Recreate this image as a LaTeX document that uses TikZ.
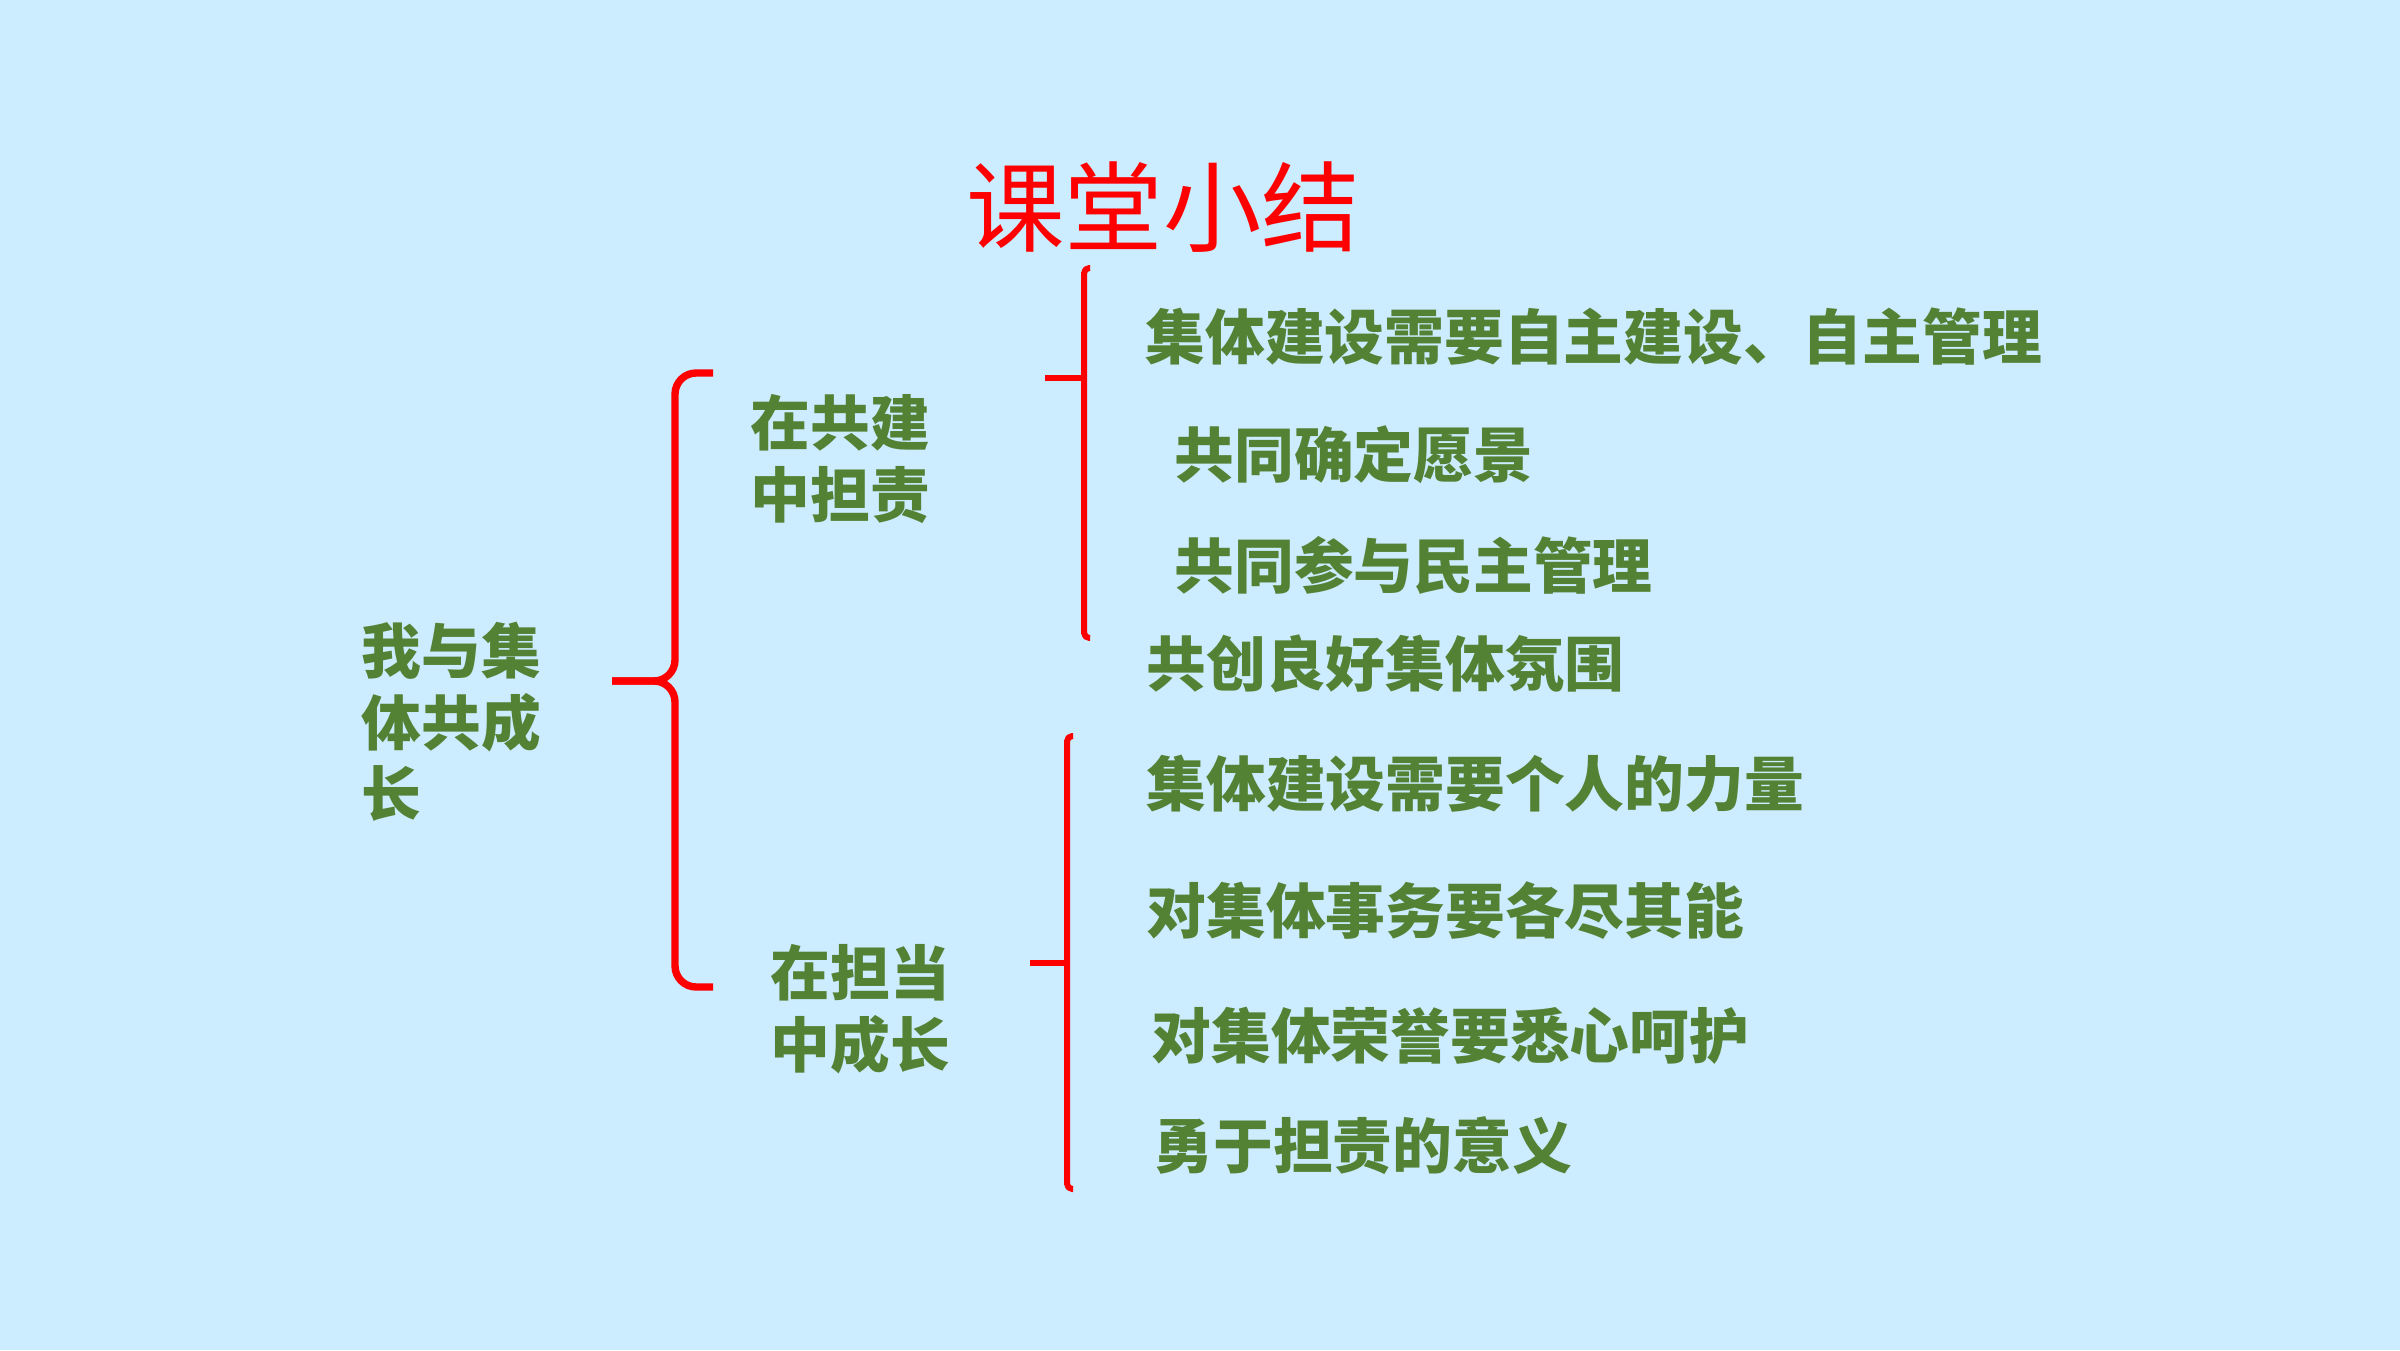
\documentclass[tikz,border=0pt]{standalone}
\usepackage{fontspec}
\setmainfont{Noto Sans CJK SC}
\newfontfamily\cjk{Noto Sans CJK SC}
\usetikzlibrary{positioning}
\definecolor{bgblue}{HTML}{CCECFF}
\definecolor{leafgreen}{HTML}{548235}

\begin{document}
\begin{tikzpicture}[x=1cm, y=1cm,
		point/.style={anchor=west, inner sep=0pt, text=leafgreen, align=left,
			font=\cjk\bfseries\fontsize{17}{20.4}\selectfont},
		bracket/.style={draw=red, line width=1.7pt, line join=round}]
	\fill[bgblue] (0,0) rectangle (24,13.5);
	\useasboundingbox (0,0) rectangle (24,13.5);
	
	\node[text=red, font=\cjk\fontsize{28}{30}\selectfont] (title) at (11.63, 11.43) {课堂小结};
	
	\node[point] (root) at (3.61, 6.28) {我与集\\体共成\\长};
	\node[point] (build) at (7.50, 8.91) {在共建\\中担责};
	\node[point] (grow) at (7.70, 3.41) {在担当\\中成长};
	
	\node[point] (b1) at (11.45, 10.13) {集体建设需要自主建设、自主管理};
	\node[point] (b2) at (11.74, 8.95) {共同确定愿景};
	\node[point] (b3) at (11.74, 7.85) {共同参与民主管理};
	\node[point] (b4) at (11.46, 6.86) {共创良好集体氛围};
	
	\node[point] (g1) at (11.46, 5.66) {集体建设需要个人的力量};
	\node[point] (g2) at (11.46, 4.39) {对集体事务要各尽其能};
	\node[point] (g3) at (11.51, 3.14) {对集体荣誉要悉心呵护};
	\node[point] (g4) at (11.53, 2.04) {勇于担责的意义};
	
	% big brace
	\coordinate (root-tip) at (6.12, 6.69);
	\draw[bracket, line width=2.1pt, rounded corners=6pt] (7.13, 9.77) -- (6.75, 9.77) -- (6.75, 6.69) -- (root-tip);
	\draw[bracket, line width=2.1pt, rounded corners=6pt] (root-tip) -- (6.75, 6.69) -- (6.75, 3.63) -- (7.13, 3.63);
	
	% brace for build
	\coordinate (build-tip) at (10.45, 9.72);
	\draw[bracket, rounded corners=1.5pt] (10.90, 10.82) -- (10.84, 10.82) -- (10.84, 7.12) -- (10.90, 7.12);
	\draw[bracket] (build-tip) -- (10.84, 9.72);
	
	% brace for grow
	\coordinate (grow-tip) at (10.30, 3.87);
	\draw[bracket, rounded corners=1.5pt] (10.73, 6.14) -- (10.67, 6.14) -- (10.67, 1.61) -- (10.73, 1.61);
	\draw[bracket] (grow-tip) -- (10.67, 3.87);
\end{tikzpicture}
\end{document}
